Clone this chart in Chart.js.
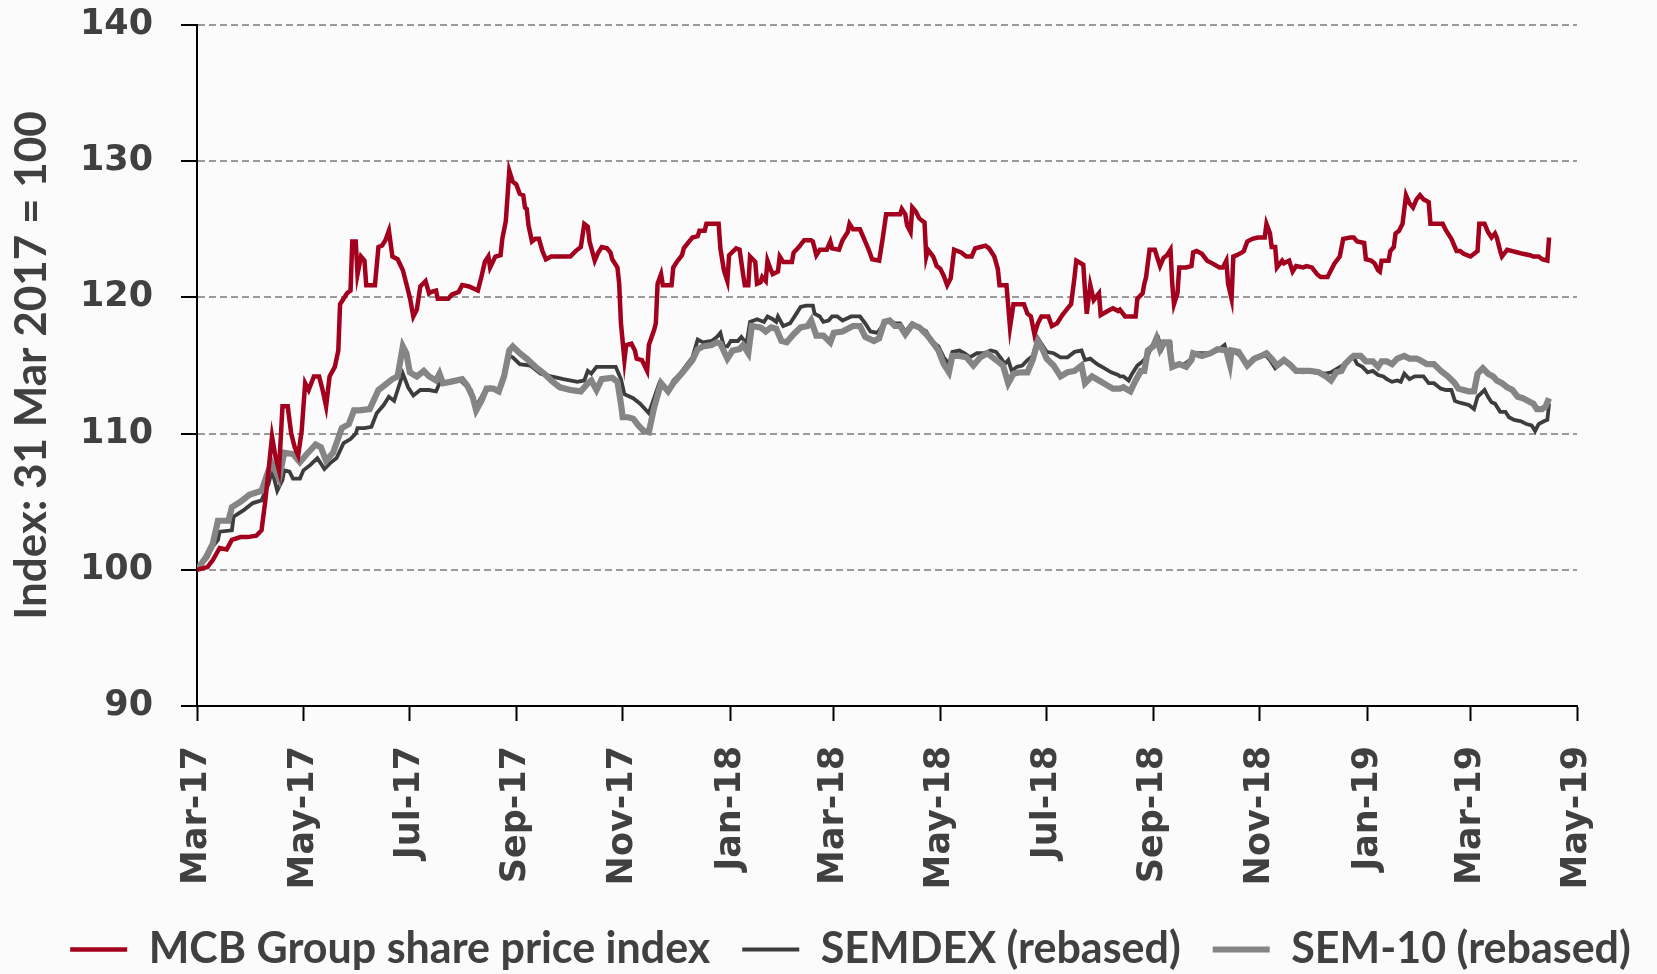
<!DOCTYPE html>
<html>
<head>
<title>MCB Group share price index</title>
<script src="https://cdn.jsdelivr.net/npm/chart.js"></script>
<style>
  html, body { margin: 0; padding: 0; background: #fbfbfb; }
</style>
</head>
<body>
<canvas id="shareChart" width="1657" height="974"></canvas>

<script>
  // x = days after 31 Mar 2017 (index = 100 on that day)
  const tickDays = [0, 61, 122, 183, 244, 306, 365, 426, 487, 548, 609, 671, 730, 791];
  const tickLabels = ["Mar-17", "May-17", "Jul-17", "Sep-17", "Nov-17", "Jan-18", "Mar-18",
                      "May-18", "Jul-18", "Sep-18", "Nov-18", "Jan-19", "Mar-19", "May-19"];

  const mcbGroup = [
    [0,100],[6,100.2],[9,100.7],[13,101.6],[17,101.5],[20,102.2],[25,102.4],[29,102.4],[34,102.5],[37,102.9],
    [39,104.9],[41,107.3],[43,109.8],[45,108.3],[47,107.3],[49,112.0],[52,112.0],[54,110.0],[56,109.0],[58,108.4],
    [60,110.2],[62,113.7],[64,113.2],[67,114.2],[70,114.2],[72,113.2],[74,112.0],[76,114.2],[79,114.9],[81,116.1],
    [82,119.5],[86,120.3],[88,120.5],[89,124.1],[91,124.1],[92,121.7],[94,123.0],[96,122.7],[97,120.9],[102,120.9],
    [104,123.7],[106,123.8],[108,124.2],[110,124.9],[112,123.0],[115,122.8],[118,122.0],[120,121.0],[122,120.0],
    [124,118.6],[126,119.1],[128,120.8],[131,121.2],[133,120.3],
    [134,120.4],[137,120.5],[138,119.9],[144,119.9],[146,120.2],[150,120.4],[152,120.9],[156,120.8],[161,120.5],
    [163,121.5],[165,122.6],[167,123.0],[168,122.2],[171,123.0],[174,123.1],[175,124.3],[177,125.6],[179,129.3],
    [181,128.5],[183,128.3],[185,127.6],[187,127.5],[188,126.6],[189,126.5],[190,125.3],[192,124.1],[194,124.3],
    [196,124.3],[198,123.4],[200,122.8],[203,123.0],[214,123.0],[217,123.4],[220,123.7],[222,125.4],[224,125.2],
    [225,124.1],[228,122.7],[230,123.3],[232,123.7],[235,123.6],[237,123.3],[238,122.8],[241,122.2],[242,121.0],
    [243,118.1],[245,115.4],[246,116.5],[249,116.6],[251,116.1],[252,115.5],[255,115.4],[258,114.6],[259,116.5],
    [262,117.6],[263,118.1],[264,121.0],[266,121.7],
    [267,120.9],[272,120.9],[273,122.2],[275,122.6],[278,123.1],[279,123.6],[282,124.1],[284,124.4],[287,124.5],
    [288,124.9],[291,124.9],[292,125.4],[299,125.4],[300,123.6],[302,122.0],[304,121.2],[305,123.1],[309,123.6],
    [311,123.5],[313,121.7],[314,120.9],[316,120.9],[317,123.0],[320,122.6],[321,121.0],[323,121.1],[324,121.5],
    [326,121.2],[327,122.7],[329,122.0],[330,121.7],[333,121.9],[334,123.0],[336,122.6],[341,122.6],[342,123.3],
    [345,123.7],[348,124.2],[352,124.2],[353,124.1],[355,123.1],[357,123.5],[361,123.5],[363,124.1],[364,123.6],
    [368,123.5],[370,124.2],[373,124.8],[374,125.4],[376,125.0],[380,125.0],[382,124.4],[385,123.5],[387,122.8],
    [391,122.7],[393,124.3],[395,126.1],[397,126.1],
    [403,126.1],[404,126.5],[406,126.1],[407,125.3],[409,124.8],[410,126.6],[412,126.3],[414,125.8],[417,125.5],
    [418,123.0],[419,123.5],[422,123.0],[424,122.3],[426,122.1],[428,121.6],[430,120.9],[432,121.4],[434,123.5],
    [438,123.3],[441,123.0],[444,123.0],[446,123.6],[449,123.7],[452,123.8],[454,123.6],[457,123.0],[459,122.1],
    [460,120.9],[464,120.9],[466,117.8],[468,119.5],[474,119.5],[476,118.8],[478,118.6],[480,117.3],[482,118.1],
    [484,118.6],[488,118.6],[490,117.9],[493,118.1],[496,118.7],[499,119.2],[501,119.5],[503,121.5],[504,122.7],
    [508,122.4],[509,120.5],[510,118.8],[512,120.9],[514,119.8],[517,120.3],[518,118.7],[522,119.0],[525,119.2],
    [528,119.0],[529,119.1],
    [532,118.6],[538,118.6],[539,119.9],[542,120.3],[543,121.0],[544,121.5],[546,123.5],[549,123.5],[552,122.3],
    [554,122.9],[556,123.1],[558,123.5],[559,121.0],[560,119.5],[562,120.3],[563,122.2],[567,122.2],[570,122.3],
    [571,123.3],[573,123.4],[576,123.2],[579,122.7],[582,122.5],[586,122.2],[588,122.2],[590,122.7],[591,121.0],
    [593,119.9],[594,123.0],[596,123.1],[599,123.3],[600,123.4],[602,124.1],[605,124.3],[608,124.4],[612,124.4],
    [613,125.4],[615,124.7],[616,123.7],[618,123.7],[619,122.2],[622,122.7],[623,122.5],[626,122.7],[627,122.3],
    [628,121.9],[630,122.3],[634,122.2],[636,122.3],[639,122.2],[642,121.7],[644,121.5],[648,121.5],[650,122.0],
    [652,122.5],[655,123.0],[657,124.3],[661,124.4],
    [663,124.4],[665,124.1],[669,124.0],[670,122.8],[673,122.7],[675,122.5],[677,122.0],[678,121.9],[679,122.7],
    [683,122.7],[684,123.4],[686,123.7],[687,124.7],[689,124.9],[691,125.4],[693,127.5],[695,126.9],[697,126.6],
    [699,127.2],[701,127.5],[703,127.2],[706,127.0],[707,125.4],[714,125.4],[716,124.9],[719,124.3],[721,123.7],
    [722,123.4],[724,123.4],[726,123.2],[728,123.1],[730,123.0],[732,123.2],[734,123.4],[735,125.4],[738,125.4],
    [740,124.8],[742,124.4],[744,124.7],[745,124.4],[747,123.4],[748,123.0],[751,123.5],[754,123.4],[757,123.3],
    [760,123.2],[764,123.1],[766,123.0],[769,123.0],[771,122.8],[774,122.7],[775,124.4]
  ];

  const semdex = [
    [0,100],[6,100.9],[9,101.7],[12,102.2],[13,102.8],[20,102.9],[21,103.9],[27,104.4],[32,104.9],[37,105.1],
    [41,106.3],[43,107.3],[46,105.8],[49,106.6],[50,107.3],[53,107.2],[55,106.7],[59,106.7],[61,107.3],[65,107.7],
    [69,108.2],[71,107.8],[73,107.4],[76,107.8],[80,108.2],[84,109.3],[88,109.6],[91,110.0],[92,110.4],[96,110.4],
    [100,110.5],[103,111.5],[107,112.1],[110,112.7],[113,112.4],[115,113.2],[118,114.4],[121,113.4],[124,112.8],
    [128,113.2],[133,113.2],
    [137,113.1],[139,113.7],[145,113.8],[151,113.9],[157,113.2],[160,112.0],[164,112.9],[168,113.4],[173,113.2],
    [176,114.2],[179,115.7],[181,115.6],[185,115.1],[191,115.0],[197,114.4],[203,114.2],[210,114.0],[218,113.8],
    [222,113.9],[224,114.6],[226,114.4],[229,114.9],[236,114.9],[240,114.9],[243,114.0],[245,112.9],[250,112.6],
    [254,112.2],[259,111.5],[262,112.6],[265,113.7],
    [268,113.4],[271,113.3],[273,113.9],[277,114.4],[281,115.1],[284,115.6],[287,116.9],[290,116.7],[295,116.8],
    [298,117.1],[300,117.4],[302,116.4],[304,116.4],[306,116.8],[310,116.8],[312,117.1],[315,116.6],[317,118.2],
    [321,118.4],[325,118.2],[327,118.6],[330,118.4],[332,118.2],[333,118.6],[336,117.9],[340,118.1],[343,118.7],
    [346,119.3],[349,119.4],[353,119.4],[354,118.8],[357,118.6],[359,118.2],[362,118.3],[364,118.6],[367,118.6],
    [370,118.3],[375,118.6],[380,118.6],[383,118.1],[386,117.5],[390,117.4],[394,118.1],[397,118.3],
    [400,118.1],[403,118.1],[406,117.5],[410,118.1],[414,117.8],[418,117.5],[421,116.8],[425,116.4],[428,115.6],
    [431,115.1],[433,116.0],[437,116.1],[440,115.9],[443,115.6],[447,115.9],[451,115.9],[455,116.1],[458,116.0],
    [461,115.5],[463,115.1],[465,115.4],[467,114.6],[470,114.9],[473,115.0],[476,115.4],[479,115.7],[482,117.0],
    [485,116.4],[487,116.0],[491,115.9],[495,115.6],[499,115.6],[503,116.0],[507,116.1],[509,115.4],[512,115.5],
    [516,115.1],[520,114.8],[524,114.5],[528,114.3],[529,114.2],
    [531,114.2],[534,113.9],[536,114.4],[539,115.0],[542,115.3],[545,115.7],[547,116.4],[549,116.6],[551,117.0],
    [553,116.2],[555,116.7],[558,116.7],[559,114.9],[562,115.1],[566,115.1],[570,115.5],[571,115.9],[576,115.9],
    [581,115.9],[585,116.1],[589,116.5],[592,115.1],[593,116.1],[596,115.9],[599,115.6],[602,115.1],[606,115.5],
    [609,115.7],[613,115.7],[615,115.4],[618,114.8],[621,115.1],[624,115.4],[627,115.1],[630,114.6],[634,114.5],
    [638,114.6],[642,114.5],[647,114.4],[650,114.5],[654,114.8],[658,115.1],[661,115.5],
    [663,115.6],[665,115.1],[668,114.9],[671,114.5],[674,114.6],[677,114.3],[680,114.2],[682,114.0],[685,113.8],
    [688,113.9],[690,113.8],[692,114.4],[695,114.0],[698,114.2],[701,114.2],[703,114.2],[706,113.7],[709,113.7],
    [713,113.3],[716,113.2],[719,113.2],[721,112.4],[723,112.3],[726,112.2],[729,112.1],[732,111.8],[734,112.7],
    [738,113.2],[740,112.7],[742,112.3],[744,112.2],[747,111.6],[750,111.6],[752,111.2],[755,111.0],[759,110.9],
    [762,110.7],[765,110.6],[767,110.2],[769,110.7],[772,110.9],[774,111.0],[775,112.2]
  ];

  const sem10 = [
    [0,100],[5,100.9],[9,101.9],[12,103.6],[18,103.6],[20,104.6],[25,105.0],[30,105.5],[37,105.8],[41,107.3],
    [43,107.8],[47,106.7],[50,108.6],[55,108.5],[59,107.9],[63,108.5],[68,109.2],[71,109.0],[74,108.0],[78,108.6],
    [83,110.4],[87,110.7],[90,111.7],[93,111.7],[99,111.8],[104,113.2],[109,113.7],[112,114.0],[115,114.2],
    [118,116.4],[120,115.9],[122,114.5],[126,114.2],[130,114.6],[133,114.2],
    [137,113.9],[139,114.4],[141,113.7],[145,113.8],[152,114.0],[155,113.5],[158,112.7],[160,111.7],[163,112.4],
    [166,113.3],[170,113.3],[173,113.1],[176,114.2],[179,116.1],[181,116.4],[185,115.9],[189,115.5],[194,114.9],
    [199,114.4],[204,113.8],[208,113.4],[214,113.2],[220,113.1],[224,113.7],[226,113.9],[229,113.2],[232,114.0],
    [238,114.1],[241,113.8],[243,112.2],[244,111.2],[247,111.2],[250,111.1],[253,110.6],[256,110.2],[259,110.1],
    [262,111.9],[266,113.7],
    [270,113.1],[273,113.7],[279,114.6],[284,115.4],[287,116.2],[290,116.4],[295,116.5],[298,116.7],[300,116.6],
    [304,115.5],[307,116.1],[311,116.2],[313,116.5],[316,115.9],[318,117.9],[323,117.8],[326,117.5],[329,117.8],
    [332,117.7],[335,116.8],[338,116.7],[342,117.3],[346,117.8],[350,117.9],[352,118.3],[355,117.2],[359,117.2],
    [363,116.7],[365,117.4],[370,117.5],[373,117.7],[376,117.9],[380,117.9],[383,117.1],[388,116.8],[391,117.0],
    [394,118.2],[397,118.3],
    [400,117.9],[403,117.9],[406,117.3],[410,118.0],[414,117.8],[418,117.3],[421,116.8],[425,116.1],[428,115.1],
    [431,114.5],[433,115.7],[437,115.7],[441,115.6],[445,115.0],[449,115.6],[453,115.9],[456,115.6],[459,115.3],
    [462,115.0],[465,113.7],[468,114.4],[472,114.5],[476,114.5],[479,115.4],[482,116.8],[485,116.1],[487,115.5],
    [491,115.0],[495,114.2],[499,114.5],[503,114.6],[507,115.0],[509,113.7],[513,114.2],[517,113.9],[521,113.6],
    [525,113.3],[529,113.3],
    [531,113.4],[535,113.1],[538,113.9],[541,114.6],[543,114.6],[545,116.1],[548,116.4],[550,117.0],[552,116.2],
    [554,116.7],[557,116.7],[559,114.9],[563,115.1],[567,114.9],[570,115.4],[571,115.9],[576,115.7],[581,115.9],
    [585,116.2],[590,116.1],[592,115.1],[593,116.1],[597,116.0],[602,115.0],[606,115.5],[610,115.7],[613,115.9],
    [616,115.5],[619,115.0],[623,115.4],[627,115.0],[630,114.6],[634,114.6],[638,114.6],[643,114.5],[647,114.2],
    [650,113.9],[653,114.5],[656,114.6],[658,115.1],[661,115.5],
    [663,115.7],[667,115.7],[670,115.3],[674,115.3],[677,114.9],[679,115.3],[682,115.3],[685,115.1],[688,115.5],
    [692,115.7],[695,115.5],[699,115.5],[701,115.4],[705,115.1],[709,115.1],[713,114.6],[717,114.2],[721,113.7],
    [723,113.3],[726,113.2],[729,113.1],[732,113.1],[734,114.4],[737,114.8],[740,114.4],[743,114.2],[745,113.9],
    [748,113.7],[751,113.4],[754,113.2],[757,112.7],[760,112.6],[763,112.4],[766,112.2],[768,111.8],[771,111.8],
    [773,112.0],[775,112.6]
  ];

  const textGrey = "#404040";
  const gridGrey = "#9a9a9a";
  const tickFont = { family: "DejaVu Sans", weight: "bold", size: 35 };
  const labelFont = { family: "Lato", weight: "bold", size: 43 };

  function toPoints(series) {
      return series.map(p => ({ x: p[0], y: p[1] }));
  }

  // pale page background
  const paintBackground = {
      id: "paintBackground",
      beforeDraw(chart) {
          const c = chart.ctx;
          c.save();
          c.fillStyle = "#fbfbfb";
          c.fillRect(0, 0, chart.width, chart.height);
          c.restore();
      }
  };

  // legend row sits a little right of centre in the original
  const nudgeLegend = {
      id: "nudgeLegend",
      afterLayout(chart) {
          chart.legend.left += 22;
          chart.legend.right += 22;
      }
  };

  const ctx = document.getElementById("shareChart").getContext("2d");
  const chart = new Chart(ctx, {
      type: "line",
      data: {
          datasets: [
              { label: "MCB Group share price index", data: toPoints(mcbGroup),
                borderColor: "#a3001e", borderWidth: 4.5, order: 0 },
              { label: "SEMDEX (rebased)", data: toPoints(semdex),
                borderColor: "#3d3d3d", borderWidth: 3.8, order: 2 },
              { label: "SEM-10 (rebased)", data: toPoints(sem10),
                borderColor: "#858585", borderWidth: 6.2, order: 1 }
          ]
      },
      options: {
          responsive: false,
          animation: false,
          layout: { padding: { top: 25, right: 0, left: 0, bottom: 0 } },
          elements: { point: { radius: 0 }, line: { tension: 0, fill: false } },
          scales: {
              x: {
                  type: "linear", min: 0, max: 791,
                  afterBuildTicks: s => { s.ticks = tickDays.map(v => ({ value: v })); },
                  afterFit: s => { s.height = 190; },
                  ticks: {
                      autoSkip: false, minRotation: 90, maxRotation: 90, padding: 25,
                      color: textGrey, font: tickFont,
                      callback: (v, i) => tickLabels[i]
                  },
                  grid: { drawOnChartArea: false, tickLength: 15, tickWidth: 2, tickColor: "#000" },
                  border: { color: "#000", width: 2 }
              },
              y: {
                  min: 90, max: 140,
                  afterFit: s => { s.width = 197; s.paddingTop = 0; s.paddingBottom = 0; },
                  ticks: { stepSize: 10, padding: 28, color: textGrey, font: tickFont },
                  grid: {
                      color: c => (c.tick && c.tick.value === 90) ? "rgba(0,0,0,0)" : gridGrey,
                      lineWidth: 2, tickLength: 16, tickWidth: 2, tickColor: "#000", tickBorderDash: []
                  },
                  border: { color: "#000", width: 2, dash: [7, 4] },
                  title: {
                      display: true, text: "Index: 31 Mar 2017 = 100",
                      color: textGrey, font: { family: "Lato", weight: "bold", size: 44 },
                      padding: { top: 5, bottom: 0 }
                  }
              },
              // empty strip on the right, keeps the plot clear of the edge
              yRight: {
                  position: "right",
                  afterFit: s => { s.width = 80; s.paddingTop = 0; s.paddingBottom = 0; },
                  ticks: { display: false },
                  grid: { display: false },
                  border: { display: false }
              }
          },
          plugins: {
              legend: {
                  position: "bottom",
                  maxHeight: 78,
                  labels: {
                      usePointStyle: true, pointStyle: "line", pointStyleWidth: 57,
                      padding: 32, color: textGrey, font: labelFont,
                      sort: (a, b) => a.datasetIndex - b.datasetIndex
                  }
              },
              tooltip: { enabled: false }
          }
      },
      plugins: [paintBackground, nudgeLegend]
  });
</script>
</body>
</html>
